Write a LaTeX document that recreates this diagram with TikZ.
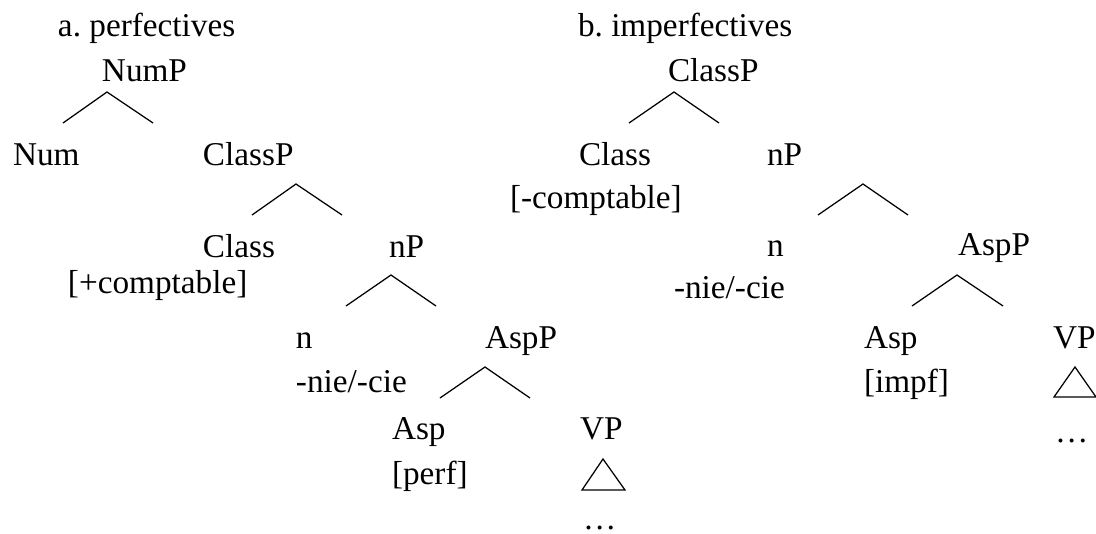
\documentclass[tikz,border=0pt]{standalone}
\usepackage{fontspec}
\setmainfont{Liberation Serif}
\frenchspacing
\begin{document}
\begin{tikzpicture}[x=0.4pt,y=-0.4pt,
  lab/.style={anchor=base west,inner sep=0pt,outer sep=0pt,font=\fontsize{13.3}{15}\selectfont},
  branch/.style={line width=0.5pt,line join=miter},
  tri/.style={line width=0.5pt,line join=miter}]
\useasboundingbox (0,0) rectangle (1096,534);
% ---------- tree a ----------
\node[lab] (ta) at (58,36) {a. perfectives};
\node[lab] (NumP) at (102,81) {NumP};
\coordinate (a1t) at (107,92); \coordinate (a1l) at (63,123); \coordinate (a1r) at (153,123);
\draw[branch] (a1l) -- (a1t) -- (a1r);
\node[lab] (Num) at (13,165) {Num};
\node[lab] (ClassPa) at (203,165) {ClassP};
\coordinate (a2t) at (296,184); \coordinate (a2l) at (252,215); \coordinate (a2r) at (342,215);
\draw[branch] (a2l) -- (a2t) -- (a2r);
\node[lab] (Classa) at (203,257) {Class};
\node[lab] (compa) at (68,293) {[+comptable]};
\node[lab] (nPa) at (389,257) {nP};
\coordinate (a3t) at (391,275); \coordinate (a3l) at (346,306); \coordinate (a3r) at (436,306);
\draw[branch] (a3l) -- (a3t) -- (a3r);
\node[lab] (na) at (296,348) {n};
\node[lab] (niea) at (296,392) {-nie/-cie};
\node[lab] (AspPa) at (485,348) {AspP};
\coordinate (a4t) at (485,367); \coordinate (a4l) at (440,398); \coordinate (a4r) at (530,398);
\draw[branch] (a4l) -- (a4t) -- (a4r);
\node[lab] (Aspa) at (392,439) {Asp};
\node[lab] (perf) at (392,484) {[perf]};
\node[lab] (VPa) at (580,439) {VP};
\coordinate (tat) at (603,459); \coordinate (tal) at (582,490); \coordinate (tar) at (625,490);
\draw[tri] (tat) -- (tal) -- (tar) -- cycle;
\node[lab] (dotsa) at (583,529) {…};
% ---------- tree b ----------
\node[lab] (tb) at (578,36) {b. imperfectives};
\node[lab] (ClassPb) at (668,81) {ClassP};
\coordinate (b1t) at (674,92); \coordinate (b1l) at (629,123); \coordinate (b1r) at (719,123);
\draw[branch] (b1l) -- (b1t) -- (b1r);
\node[lab] (Classb) at (579,165) {Class};
\node[lab] (compb) at (510,208) {[-comptable]};
\node[lab] (nPb) at (767,165) {nP};
\coordinate (b2t) at (863,184); \coordinate (b2l) at (818,215); \coordinate (b2r) at (908,215);
\draw[branch] (b2l) -- (b2t) -- (b2r);
\node[lab] (nb) at (767,256) {n};
\node[lab] (nieb) at (674,298) {-nie/-cie};
\node[lab] (AspPb) at (958,255) {AspP};
\coordinate (b3t) at (957,275); \coordinate (b3l) at (912,306); \coordinate (b3r) at (1003,306);
\draw[branch] (b3l) -- (b3t) -- (b3r);
\node[lab] (Aspb) at (864,348) {Asp};
\node[lab] (impf) at (864,392) {[impf]};
\node[lab] (VPb) at (1053,348) {VP};
\coordinate (tbt) at (1075,367); \coordinate (tbl) at (1054,397); \coordinate (tbr) at (1096,397);
\draw[tri] (tbt) -- (tbl) -- (tbr) -- cycle;
\node[lab] (dotsb) at (1055,442) {…};
\end{tikzpicture}
\end{document}
